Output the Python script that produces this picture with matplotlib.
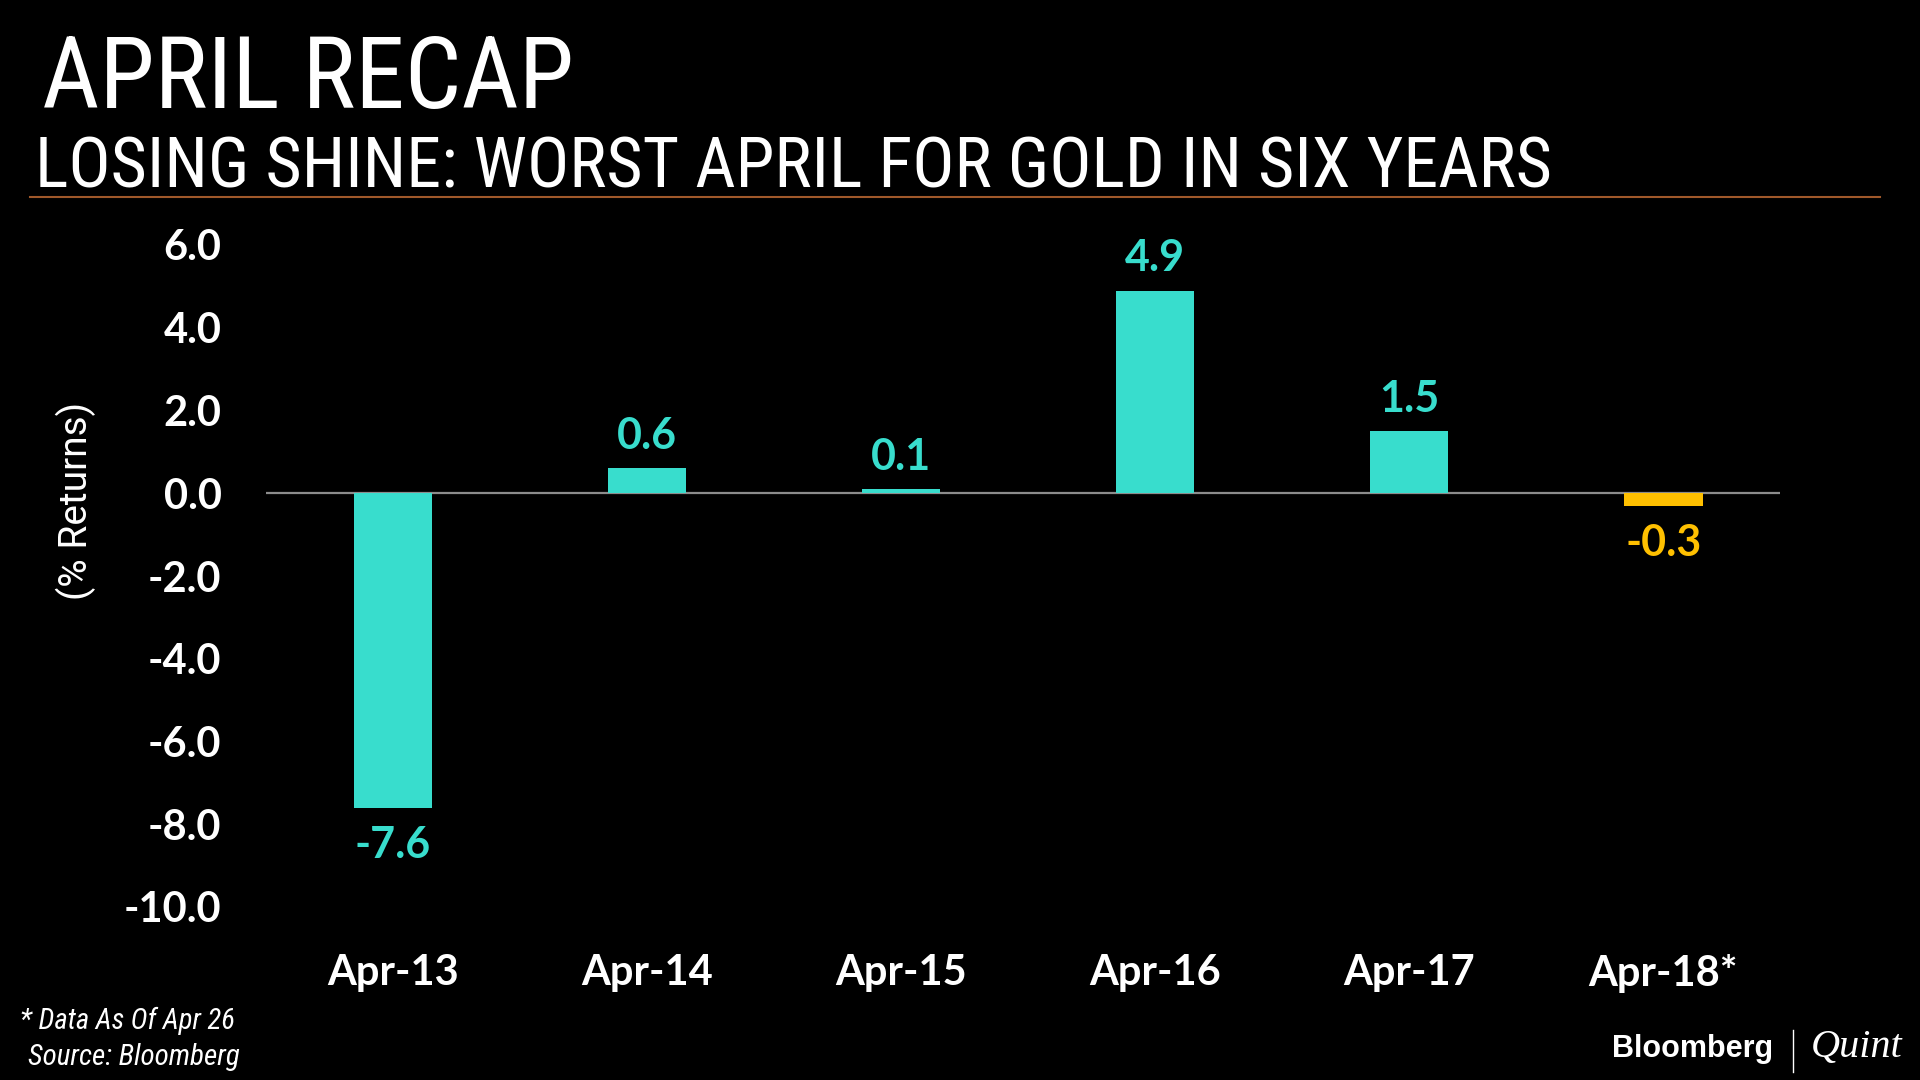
import matplotlib
matplotlib.use("Agg")
import matplotlib.pyplot as plt
from matplotlib.lines import Line2D
from matplotlib import font_manager as fm

# ---- data ----
categories = ["Apr-13", "Apr-14", "Apr-15", "Apr-16", "Apr-17", "Apr-18*"]
returns = [-7.6, 0.6, 0.1, 4.9, 1.5, -0.3]
value_labels = ["-7.6", "0.6", "0.1", "4.9", "1.5", "-0.3"]
y_ticks = [-10, -8, -6, -4, -2, 0, 2, 4, 6]
y_tick_labels = ["-10.0", "-8.0", "-6.0", "-4.0", "-2.0", "0.0", "2.0", "4.0", "6.0"]

TEAL = "#38DDCD"
GOLD = "#FFC000"
bar_colors = [TEAL, TEAL, TEAL, TEAL, TEAL, GOLD]

W, H = 1920, 1080
fig = plt.figure(figsize=(19.2, 10.8), dpi=100, facecolor="black")
renderer = fig.canvas.get_renderer()


def fx(x):
    return x / W


def fy(y):
    return 1 - y / H


def _is_condensed(f):
    st = f.stretch
    if isinstance(st, str):
        return "condensed" in st or "narrow" in st
    try:
        return int(st) < 500
    except Exception:
        return False


def find_condensed(italic=False):
    prefs = ["Roboto Condensed", "Open Sans Condensed", "Liberation Sans Narrow",
             "DejaVu Sans Condensed", "Noto Sans Condensed"]
    cands = []
    for f in fm.fontManager.ttflist:
        nm = f.name
        if not ("Condensed" in nm or "Narrow" in nm or _is_condensed(f)):
            continue
        if italic != (f.style in ("italic", "oblique")):
            continue
        w = f.weight if isinstance(f.weight, int) else (400 if f.weight in ("normal", "regular") else 700)
        cands.append((nm, w, f.fname))
    for p in prefs:
        for nm, w, fn in cands:
            if nm.startswith(p.split()[0]) and abs(w - 400) <= 100:
                return fm.FontProperties(fname=fn)
    for nm, w, fn in cands:
        if abs(w - 400) <= 100:
            return fm.FontProperties(fname=fn)
    return None


def fit_width(t, target):
    bb = t.get_window_extent(renderer)
    if bb.width > 0:
        t.set_fontsize(t.get_fontsize() * target / bb.width)


cond = find_condensed(False)
cond_it = find_condensed(True)

NUM_FONT = ["Lato", "Open Sans", "DejaVu Sans"]

# axes: x from 266 to 1780 px, y from 245 (6) to 907 (-10)
ax = fig.add_axes([fx(266), fy(907), (1780 - 266) / W, (907 - 245) / H])
ax.set_facecolor("black")
x = list(range(len(categories)))
ax.bar(x, returns, width=0.31, color=bar_colors, zorder=3)
ax.axhline(0, color="#8c8c8c", lw=1.6, zorder=2)
ax.set_xlim(-0.5, 5.46)
ax.set_ylim(-10, 6)
ax.set_yticks(y_ticks)
ax.set_yticklabels(y_tick_labels, fontsize=30, fontweight="bold",
                   color="white", family=NUM_FONT)
ax.set_xticks(x)
ax.set_xticklabels(categories, fontsize=30, fontweight="bold",
                   color="white", family=NUM_FONT)
ax.tick_params(axis="y", length=0, pad=32)
ax.tick_params(axis="x", length=0, pad=34)
for s in ax.spines.values():
    s.set_visible(False)

for xi, v, lab, c in zip(x, returns, value_labels, bar_colors):
    off = 14 if v >= 0 else -36
    ax.annotate(lab, (xi, v), xytext=(0, off), textcoords="offset points",
                ha="center", va="baseline", fontsize=31, fontweight="bold",
                color=c, family=NUM_FONT)

fig.text(fx(76), fy(501), "(% Returns)", rotation=90, fontsize=28,
         color="white", family=["Roboto", "DejaVu Sans"],
         ha="center", va="center")

# ---- titles ----
def title_text(xp, yp, s, size, target_w, fp):
    kw = dict(color="white", va="baseline", ha="left")
    if fp is not None:
        t = fig.text(fx(xp), fy(yp), s, fontproperties=fp.copy(), **kw)
        t.set_fontsize(size)
    else:
        t = fig.text(fx(xp), fy(yp), s, fontsize=size,
                     family=["Roboto", "DejaVu Sans"], **kw)
    fit_width(t, target_w)
    return t

title_text(42, 108, "APRIL RECAP", 70, 533, cond)
title_text(35, 188, "LOSING SHINE: WORST APRIL FOR GOLD IN SIX YEARS", 53, 1516, cond)
fig.add_artist(Line2D([fx(30), fx(1880)], [fy(197), fy(197)],
                      color="#A0582A", lw=1.5, transform=fig.transFigure))

# ---- footnotes ----
def foot_text(xp, yp, s, target_w):
    kw = dict(color="white", va="baseline", ha="left")
    if cond_it is not None:
        t = fig.text(fx(xp), fy(yp), s, fontproperties=cond_it.copy(), **kw)
        t.set_fontsize(22)
    else:
        t = fig.text(fx(xp), fy(yp), s, fontsize=22, style="italic",
                     family=["Roboto", "DejaVu Sans"], **kw)
    fit_width(t, target_w)
    return t

foot_text(20, 1029, "* Data As Of Apr 26", 215)
foot_text(28, 1065, "Source: Bloomberg", 212)

# ---- logo ----
fig.text(fx(1773), fy(1057), "Bloomberg", fontsize=22, fontweight="bold",
         color="white", family=["Liberation Sans", "DejaVu Sans"],
         ha="right", va="baseline")
fig.add_artist(Line2D([fx(1793), fx(1793)], [fy(1030), fy(1072)],
                      color="white", lw=1, transform=fig.transFigure))
fig.text(fx(1811), fy(1057), "Quint", fontsize=29, style="italic",
         color="white", family=["Liberation Serif", "DejaVu Serif"],
         ha="left", va="baseline")

fig.savefig("out.png", dpi=100, facecolor="black")
